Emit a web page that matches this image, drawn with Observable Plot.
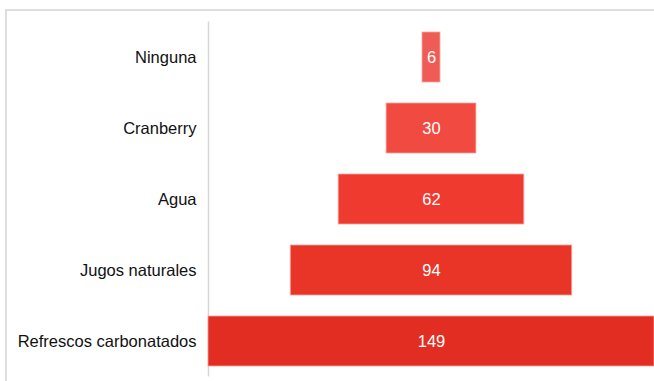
<!DOCTYPE html>
<html>
<head>
<meta charset="utf-8">
<script src="https://cdn.jsdelivr.net/npm/d3@7"></script>
<script src="https://cdn.jsdelivr.net/npm/@observablehq/plot@0.6"></script>
<style>
  html, body { margin: 0; padding: 0; background: #fff; }
  #wrap { position: relative; width: 654px; height: 381px; overflow: hidden; }
  #frame { position: absolute; left: 5px; top: 9px; width: 700px; height: 400px;
           border-left: 2px solid #dedede; border-top: 2px solid #dedede; box-sizing: border-box; }
  #chart { position: absolute; left: 0; top: 0; }
</style>
</head>
<body>
<div id="wrap"><div id="frame"></div><div id="chart"></div></div>
<script>
const categories = ["Ninguna", "Cranberry", "Agua", "Jugos naturales", "Refrescos carbonatados"];
const values = [6, 30, 62, 94, 149];
const barColors = ["#ef5c56", "#f04a41", "#ef3a2f", "#e93428", "#e22d22"];

const data = categories.map((c, i) => ({category: c, value: values[i]}));
const maxV = d3.max(values);

const chart = Plot.plot({
  width: 654,
  height: 381,
  marginLeft: 208,
  marginRight: 0,
  marginTop: 21.5,
  marginBottom: 4.5,
  style: {fontFamily: "'Liberation Sans', Arial, sans-serif", background: "transparent"},
  x: {domain: [-maxV / 2, maxV / 2], axis: null},
  y: {domain: categories, paddingInner: 0.3, paddingOuter: 0.15, label: null},
  color: {domain: categories, range: barColors},
  marks: [
    Plot.ruleX([-maxV / 2], {stroke: "#d6d6d6", strokeWidth: 1.5}),
    Plot.barX(data, {
      y: "category",
      x1: d => -d.value / 2,
      x2: d => d.value / 2,
      fill: "category",
      stroke: "#f7a29c",
      strokeWidth: 1,
      strokeOpacity: 0.8
    }),
    Plot.text(data, {
      y: "category",
      x: 0,
      text: d => String(d.value),
      fill: "white",
      fontSize: 16.5
    }),
    Plot.axisY({tickSize: 0, tickPadding: 12, fontSize: 16.5, fill: "#111", label: null})
  ]
});
document.getElementById("chart").appendChild(chart);
</script>
</body>
</html>
